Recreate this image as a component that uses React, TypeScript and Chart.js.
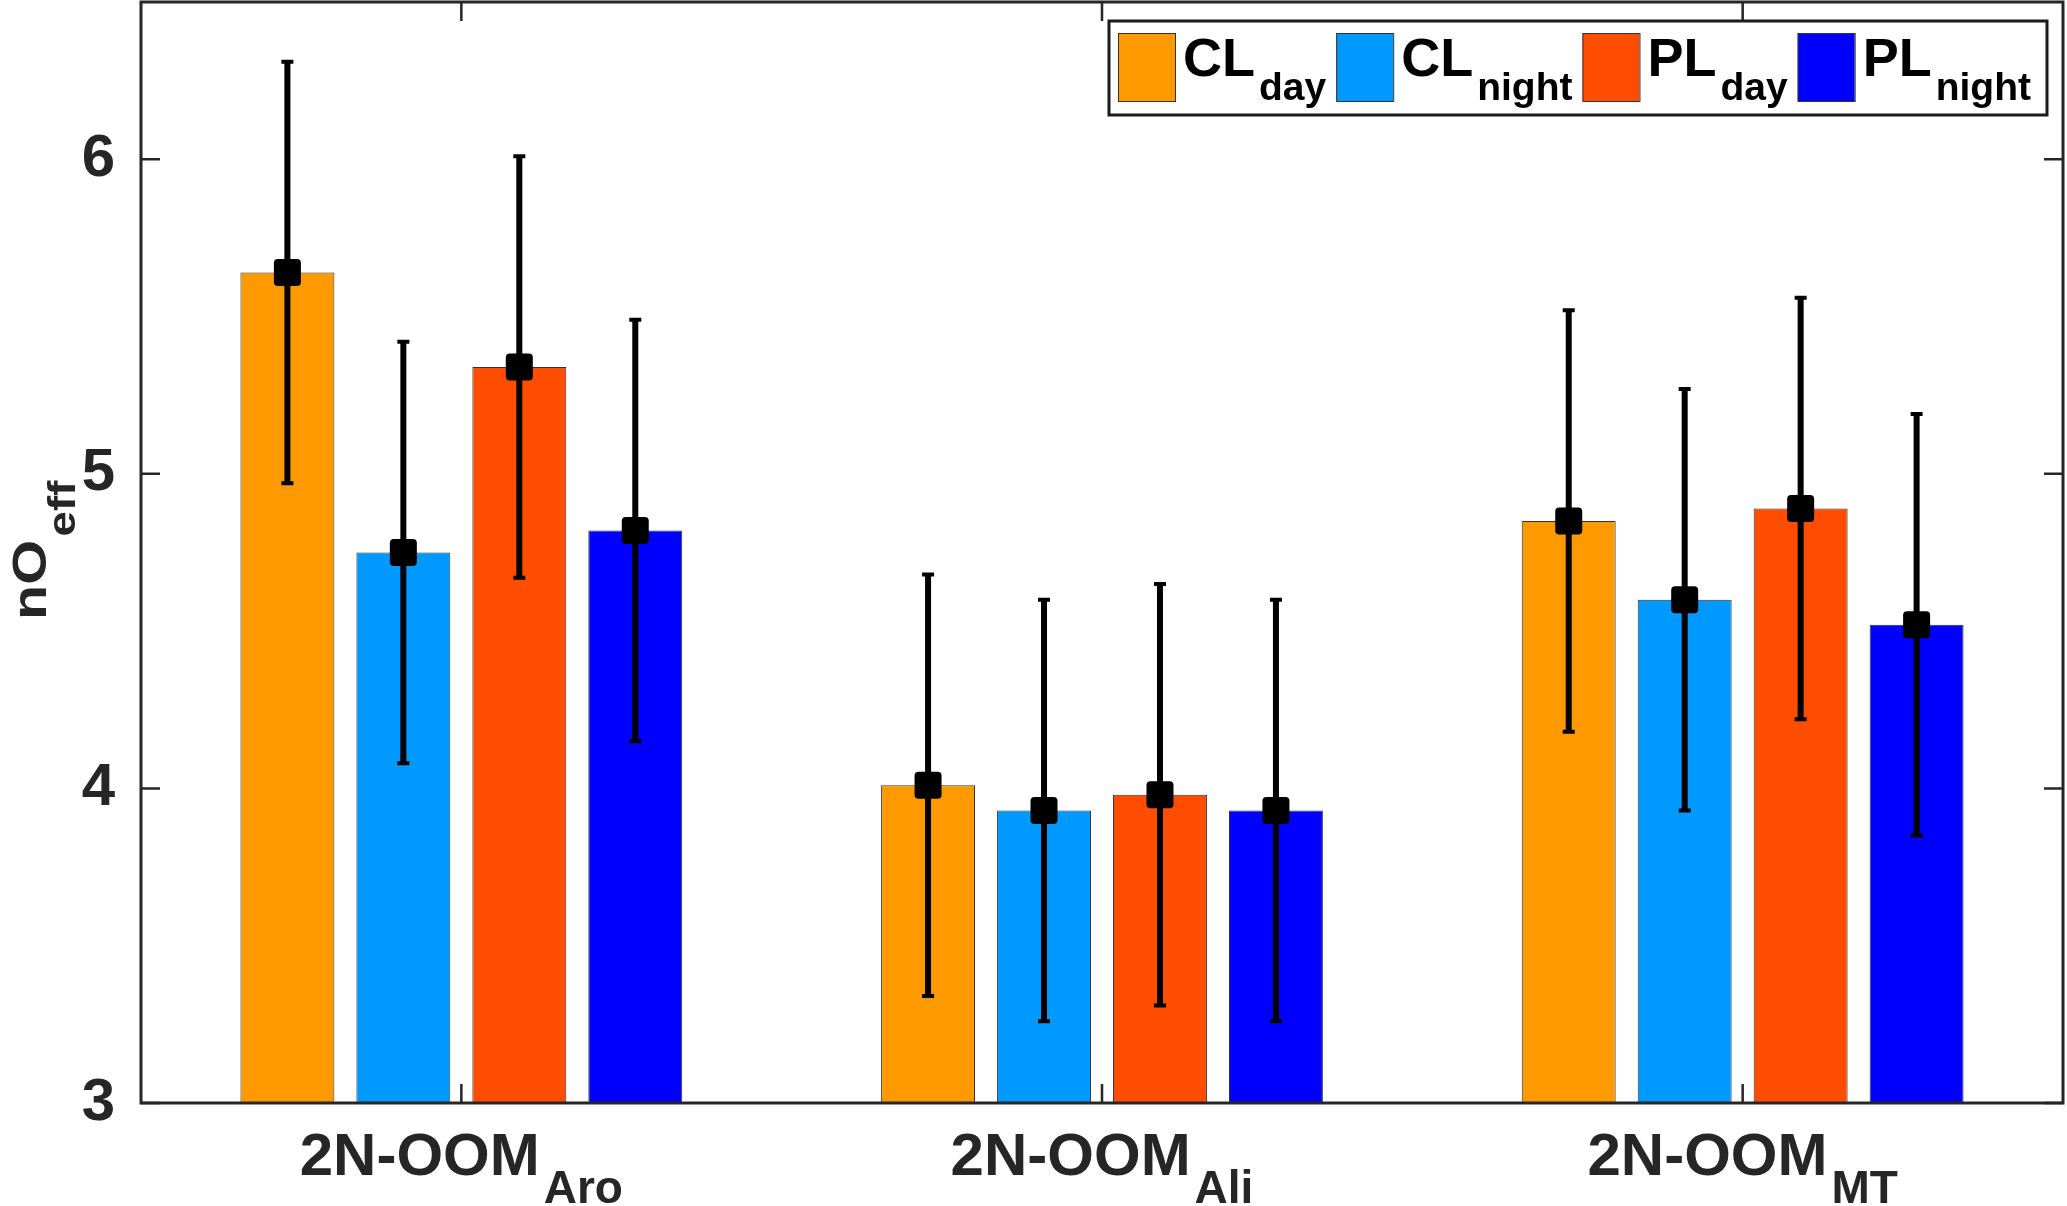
import React, { useEffect, useRef } from 'react';
import { Chart, registerables } from 'chart.js';

Chart.register(...registerables);

// categories (main text + subscript)
const groupNames = ['2N-OOM', '2N-OOM', '2N-OOM'];
const groupSubs = ['Aro', 'Ali', 'MT'];

// series
const seriesNames = ['CL', 'CL', 'PL', 'PL'];
const seriesSubs = ['day', 'night', 'day', 'night'];
const seriesColors = ['#FF9900', '#0099FF', '#FF4D00', '#0000FF'];

const clDay = [5.64, 4.01, 4.85];
const clNight = [4.75, 3.93, 4.6];
const plDay = [5.34, 3.98, 4.89];
const plNight = [4.82, 3.93, 4.52];

const clDayErr = [0.67, 0.67, 0.67];
const clNightErr = [0.67, 0.67, 0.67];
const plDayErr = [0.67, 0.67, 0.67];
const plNightErr = [0.67, 0.67, 0.67];

const yTicks = [3, 4, 5, 6];

const seriesValues = [clDay, clNight, plDay, plNight];
const seriesErrors = [clDayErr, clNightErr, plDayErr, plNightErr];

const FONT = '"Liberation Sans", Arial, Helvetica, sans-serif';
const AXIS = '#262626';

const errorBars = {
  id: 'errorBars',
  afterDatasetsDraw(chart: any) {
    const { ctx } = chart;
    const y = chart.scales.y;
    ctx.save();
    chart.data.datasets.forEach((ds: any, di: number) => {
      const meta = chart.getDatasetMeta(di);
      meta.data.forEach((bar: any, i: number) => {
        const v = ds.data[i];
        const e = seriesErrors[di][i];
        const top = y.getPixelForValue(v + e);
        const bot = y.getPixelForValue(v - e);
        ctx.strokeStyle = '#000';
        ctx.lineWidth = 6;
        ctx.beginPath();
        ctx.moveTo(bar.x, top);
        ctx.lineTo(bar.x, bot);
        ctx.stroke();
        ctx.lineWidth = 4;
        ctx.beginPath();
        ctx.moveTo(bar.x - 6, top);
        ctx.lineTo(bar.x + 6, top);
        ctx.moveTo(bar.x - 6, bot);
        ctx.lineTo(bar.x + 6, bot);
        ctx.stroke();
        const cy = y.getPixelForValue(v);
        ctx.fillStyle = '#000';
        ctx.beginPath();
        ctx.roundRect(bar.x - 13.5, cy - 13.5, 27, 27, 4);
        ctx.fill();
      });
    });
    ctx.restore();
  },
};

const decorations = {
  id: 'decorations',
  afterDraw(chart: any) {
    const { ctx, chartArea: a } = chart;
    const x = chart.scales.x;
    const y = chart.scales.y;
    ctx.save();

    // axes box and inward ticks
    ctx.strokeStyle = AXIS;
    ctx.lineWidth = 3;
    ctx.strokeRect(a.left, a.top, a.right - a.left, a.bottom - a.top);
    ctx.lineWidth = 2.5;
    ctx.beginPath();
    yTicks.forEach((t) => {
      const py = y.getPixelForValue(t);
      ctx.moveTo(a.left, py);
      ctx.lineTo(a.left + 19, py);
      ctx.moveTo(a.right, py);
      ctx.lineTo(a.right - 19, py);
    });
    groupNames.forEach((_, i) => {
      const px = x.getPixelForValue(i);
      ctx.moveTo(px, a.bottom);
      ctx.lineTo(px, a.bottom - 19);
      ctx.moveTo(px, a.top);
      ctx.lineTo(px, a.top + 19);
    });
    ctx.stroke();

    // category labels with subscripts
    ctx.fillStyle = AXIS;
    ctx.textBaseline = 'alphabetic';
    ctx.textAlign = 'left';
    groupNames.forEach((name, i) => {
      ctx.font = `bold 60px ${FONT}`;
      const w1 = ctx.measureText(name).width;
      ctx.font = `bold 46px ${FONT}`;
      const w2 = ctx.measureText(groupSubs[i]).width;
      const total = w1 + 4 + w2;
      const start = x.getPixelForValue(i) - total / 2;
      ctx.font = `bold 60px ${FONT}`;
      ctx.fillText(name, start, 1175);
      ctx.font = `bold 46px ${FONT}`;
      ctx.fillText(groupSubs[i], start + w1 + 4, 1203);
    });

    // y axis title nO_eff
    ctx.save();
    ctx.translate(46, 620);
    ctx.rotate(-Math.PI / 2);
    ctx.scale(1.2, 1);
    ctx.font = `bold 48px ${FONT}`;
    ctx.fillText('nO', 0, 0);
    const wn = ctx.measureText('nO').width;
    ctx.font = `bold 38px ${FONT}`;
    ctx.fillText('eff', wn + 3, 29);
    ctx.restore();

    // legend
    const lx = 1109, ly = 21, lw = 938, lh = 94;
    ctx.fillStyle = '#fff';
    ctx.fillRect(lx, ly, lw, lh);
    ctx.strokeStyle = '#1a1a1a';
    ctx.lineWidth = 3;
    ctx.strokeRect(lx, ly, lw, lh);
    let cx = 1118;
    seriesNames.forEach((name, i) => {
      ctx.fillStyle = seriesColors[i];
      ctx.fillRect(cx, 33, 57, 68);
      ctx.strokeStyle = '#333';
      ctx.lineWidth = 1;
      ctx.strokeRect(cx + 0.5, 33.5, 57, 68);
      cx += 65;
      ctx.fillStyle = '#000';
      ctx.font = `bold 54px ${FONT}`;
      ctx.fillText(name, cx, 76);
      cx += ctx.measureText(name).width + 4;
      ctx.font = `bold 39px ${FONT}`;
      ctx.fillText(seriesSubs[i], cx, 100);
      cx += ctx.measureText(seriesSubs[i]).width + 10;
    });

    ctx.restore();
  },
};

const App: React.FC = () => {
  const canvasRef = useRef<HTMLCanvasElement>(null);

  useEffect(() => {
    document.body.style.margin = '0';
    if (!canvasRef.current) return;
    const chart = new Chart(canvasRef.current, {
      type: 'bar',
      data: {
        labels: groupSubs,
        datasets: seriesValues.map((vals, i) => ({
          label: seriesNames[i] + seriesSubs[i],
          data: vals,
          backgroundColor: seriesColors[i],
          borderColor: '#333333',
          borderWidth: 1,
          categoryPercentage: 0.724,
          barPercentage: 0.81,
        })),
      },
      options: {
        animation: false,
        responsive: false,
        devicePixelRatio: 1,
        layout: { padding: { top: 2, right: 4, left: 0, bottom: 0 } },
        plugins: {
          legend: { display: false },
          tooltip: { enabled: false },
        },
        scales: {
          x: {
            type: 'category',
            offset: true,
            grid: { display: false },
            border: { display: false },
            ticks: { display: false },
            afterFit: (s: any) => {
              s.height = 103;
              s.paddingLeft = 0;
              s.paddingRight = 0;
            },
          },
          y: {
            min: 3,
            max: 6.5,
            grid: { display: false },
            border: { display: false },
            afterBuildTicks: (s: any) => {
              s.ticks = yTicks.map((v) => ({ value: v }));
            },
            ticks: {
              padding: 18,
              color: AXIS,
              font: { family: FONT, size: 60, weight: 'bold' },
            },
            afterFit: (s: any) => {
              s.width = 141;
              s.paddingTop = 0;
              s.paddingBottom = 0;
            },
          },
        },
      },
      plugins: [errorBars, decorations],
    });
    return () => {
      chart.destroy();
    };
  }, []);

  return <canvas ref={canvasRef} width={2067} height={1206} />;
};

export default App;
